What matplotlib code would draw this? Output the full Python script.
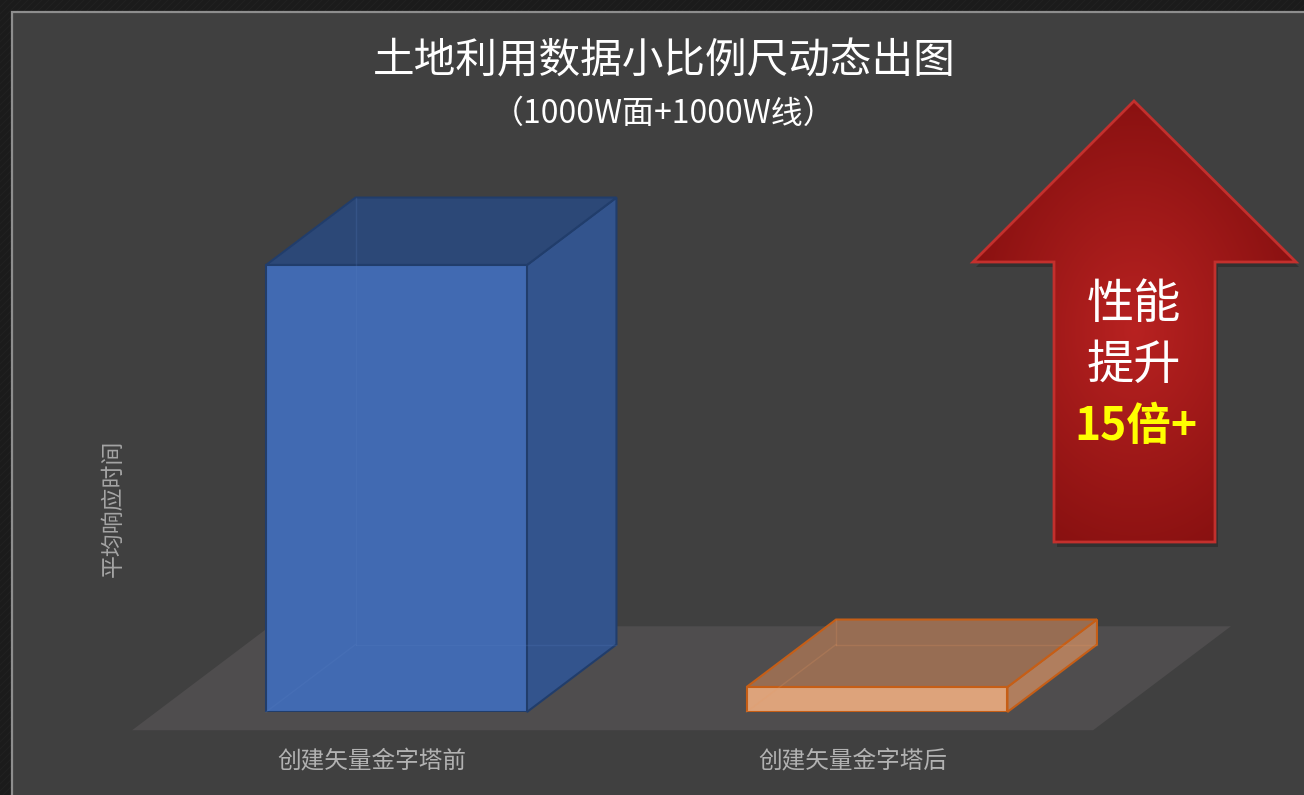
import numpy as np
import matplotlib
matplotlib.use("Agg")
import matplotlib.pyplot as plt
from matplotlib.patches import Polygon, Rectangle
from matplotlib.transforms import IdentityTransform

plt.rcParams['font.family'] = ['Noto Sans CJK SC', 'DejaVu Sans']

# ---- data ----
categories = ["创建矢量金字塔前", "创建矢量金字塔后"]
response_time = [17.9, 1.0]          # average response time (relative units)
title_text = "土地利用数据小比例尺动态出图"
subtitle_text = "（1000W面+1000W线）"
ylabel_text = "平均响应时间"
badge_lines = ["性能", "提升"]
badge_value = "15倍+"

# ---- style ----
face_front = ["#416ab2", "#dda37b"]
face_side = ["#33548d", "#b07e5e"]
face_top = ["#2c4877", "#976d53"]
edge_col = ["#213d6b", "#c65e16"]
hidden_col = ["#5a80c4", "#e89a62"]
floor_col = "#4f4d4e"
panel_col = "#404040"

W, H, DPI = 1304, 795, 100
fig = plt.figure(figsize=(W / DPI, H / DPI), dpi=DPI)
fig.patch.set_facecolor("#1b1b1b")

# overlay in pixel units for the frame, title and badge
bg = fig.add_axes([0, 0, 1, 1], zorder=0)
bg.set_xlim(0, W)
bg.set_ylim(H, 0)
bg.axis("off")

# faint diagonal texture on the outer frame
for k in range(-H, W, 7):
    bg.plot([k, k + H], [H, 0], color="#272727", lw=0.6, alpha=0.5, zorder=0)
bg.add_patch(Rectangle((11.5, 11.5), W + 20, H + 20, facecolor=panel_col,
                       edgecolor="#8e8e8e", lw=1.6, zorder=1))

bg.text(664, 62, title_text, color="white", fontsize=30, fontweight="light",
        ha="center", va="center", zorder=5)
bg.text(664, 114, subtitle_text, color="white", fontsize=23,
        fontweight="light", ha="center", va="center", zorder=5)
bg.text(113, 508, ylabel_text, color="#a5a5a5", fontsize=16.5, ha="center",
        va="center", rotation=90, zorder=5)

# ---- 3D-style bar axes ----
px_per_cat = 480.5
x_left = 396.5 - 0.6 * px_per_cat
y_base = 712
y_span = 20 * 24.97
ax = fig.add_axes([x_left / W, (H - y_base) / H,
                   2.2 * px_per_cat / W, y_span / H], zorder=2)
ax.set_xlim(-0.6, 1.6)
ax.set_ylim(0, 20)
ax.axis("off")
ax.patch.set_alpha(0)

depth = np.array([89.5, 67.5])   # display offset of a bar's full depth
margin = 0.27                     # floor margin, in bar depths
bar_w = 0.543


def proj(x, y, f):
    p = ax.transData.transform((x, y))
    return p + f * depth


def face(pts, **kw):
    poly = Polygon(np.array(pts), closed=True, transform=IdentityTransform(),
                   clip_on=False, **kw)
    ax.add_patch(poly)
    return poly


# floor
face([proj(-0.5, 0, -margin), proj(1.5, 0, -margin),
      proj(1.5, 0, 1 + margin), proj(-0.5, 0, 1 + margin)],
     facecolor=floor_col, edgecolor="none", zorder=1)

bars = ax.bar(range(len(categories)), response_time, width=bar_w,
              color=face_front, edgecolor=edge_col, linewidth=1.5, zorder=5)

for i, (b, h) in enumerate(zip(bars, response_time)):
    x0, x1 = b.get_x(), b.get_x() + b.get_width()
    # right side
    face([proj(x1, 0, 0), proj(x1, 0, 1), proj(x1, h, 1), proj(x1, h, 0)],
         facecolor=face_side[i], edgecolor=edge_col[i], lw=1.5, zorder=4)
    # top
    face([proj(x0, h, 0), proj(x1, h, 0), proj(x1, h, 1), proj(x0, h, 1)],
         facecolor=face_top[i], edgecolor=edge_col[i], lw=1.5, zorder=4)
    # hidden edges seen through the translucent faces
    for seg in ([proj(x0, 0, 1), proj(x0, h, 1)],
                [proj(x0, 0, 1), proj(x1, 0, 1)],
                [proj(x0, 0, 0), proj(x0, 0, 1)]):
        seg = np.array(seg)
        ax.plot(seg[:, 0], seg[:, 1], color=hidden_col[i], lw=1.0, alpha=0.2,
                transform=IdentityTransform(), clip_on=False, zorder=6)
    ax.annotate(categories[i], xy=(i, 0), xycoords="data",
                xytext=(-margin * depth[0], -50), textcoords="offset pixels",
                ha="center", va="center", color="#b2b2b2", fontsize=17,
                annotation_clip=False, zorder=6)

# ---- badge arrow ----
arrow = np.array([[1134, 101], [1296, 262], [1215, 262], [1215, 542],
                  [1054, 542], [1054, 262], [973, 262]])
bg.add_patch(Polygon(arrow + [3, 5], closed=True, facecolor="black",
                     alpha=0.22, edgecolor="none", zorder=6))
yy, xx = np.mgrid[101:543, 973:1297]
r = np.hypot((xx - 1134) / 190.0, (yy - 330) / 260.0)
r = np.clip(r, 0, 1)
c0 = np.array([0xb8, 0x22, 0x21]) / 255
c1 = np.array([0x84, 0x0f, 0x0f]) / 255
img = c0[None, None, :] * (1 - r[..., None]) + c1[None, None, :] * r[..., None]
im = bg.imshow(img, extent=[973, 1297, 543, 101], zorder=7, aspect="auto")
im.set_clip_path(Polygon(arrow, closed=True, transform=bg.transData))
bg.add_patch(Polygon(arrow, closed=True, facecolor="none",
                     edgecolor="#c3302d", lw=2, zorder=8))

bg.text(1134, 305, badge_lines[0], color="white", fontsize=34, ha="center",
        va="center", zorder=9)
bg.text(1134, 366, badge_lines[1], color="white", fontsize=34, ha="center",
        va="center", zorder=9)
bg.text(1136, 427, badge_value, color="#ffff00", fontsize=32,
        fontweight="bold", ha="center", va="center", zorder=9)
bg.set_xlim(0, W)
bg.set_ylim(H, 0)

fig.savefig("out.png", dpi=DPI, facecolor=fig.get_facecolor())
